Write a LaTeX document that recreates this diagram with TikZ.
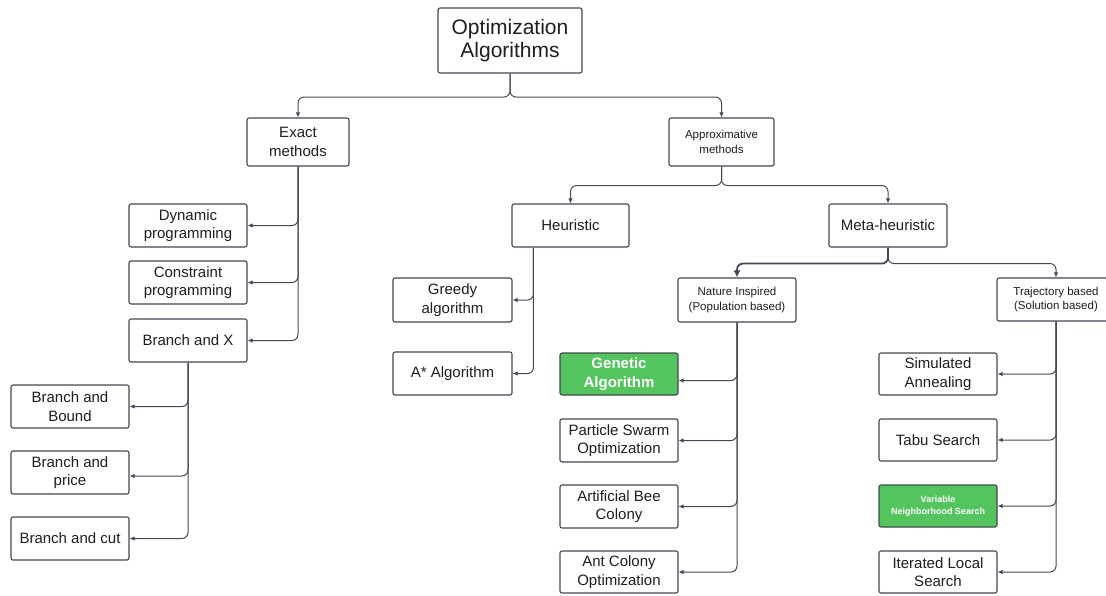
\documentclass[tikz,border=0pt]{standalone}
\usepackage{fontspec}
\setmainfont{Liberation Sans}
\usetikzlibrary{arrows.meta,calc}
\definecolor{edge}{HTML}{434952}
\definecolor{leaf}{HTML}{54C45E}
\definecolor{ink}{HTML}{1E1E1E}
\tikzset{
  x=1pt, y=1pt,
  box/.style={draw=edge, line width=1.1pt, rounded corners=2pt, fill=white,
    inner sep=0pt, align=center, text=ink, font=\fontsize{15}{18.5}\selectfont},
  smallbox/.style={box, font=\fontsize{11.5}{14.5}\selectfont},
  hot/.style={box, fill=leaf, text=white, font=\bfseries\fontsize{15}{18.5}\selectfont},
  conn/.style={draw=edge, line width=1pt, rounded corners=6pt,
    -{Latex[length=5pt,width=4.5pt]}},
  boldconn/.style={conn, line width=1.8pt, -{Latex[length=7pt,width=7pt]}},
}
\newcommand{\bx}[6]{\node[#1, minimum width=#4, minimum height=#5] (#2) at #3 {#6};}
\begin{document}
\begin{tikzpicture}
\useasboundingbox (0,0) rectangle (1106,-595);

% root and first level
\node[box, minimum width=144, minimum height=65,
  font=\fontsize{21}{23.5}\selectfont] (opt) at (510,-40.5) {Optimization\\Algorithms};
\bx{box}{exact}{(298,-142)}{102}{48}{Exact\\methods}
\bx{smallbox}{approx}{(721.5,-142)}{105}{48}{Approximative\\methods}

% exact methods
\bx{box}{dyn}{(188,-225.5)}{118}{43}{Dynamic\\programming}
\bx{box}{cons}{(188,-282.5)}{118}{43}{Constraint\\programming}
\bx{box}{bx}{(188,-340.5)}{118}{43}{Branch and X}
\bx{box}{bb}{(70,-406.5)}{118}{43}{Branch and\\Bound}
\bx{box}{bp}{(70,-472.5)}{118}{43}{Branch and\\price}
\bx{box}{bc}{(70,-538.5)}{118}{43}{Branch and cut}

% approximative methods
\bx{box}{heur}{(570.5,-225.5)}{117}{43}{Heuristic}
\bx{box}{meta}{(888,-225.5)}{118}{43}{Meta-heuristic}
\bx{box}{greedy}{(452.5,-300)}{119}{44}{Greedy\\algorithm}
\bx{box}{astar}{(452.5,-373.5)}{119}{43}{A* Algorithm}
\bx{smallbox}{nat}{(737,-300)}{118}{44}{Nature Inspired\\(Population based)}
\bx{smallbox}{traj}{(1056,-299.5)}{118}{43}{Trajectory based\\(Solution based)}

% population based
\bx{hot}{ga}{(619,-374)}{118}{42}{Genetic\\Algorithm}
\bx{box}{pso}{(619,-440.5)}{118}{43}{Particle Swarm\\Optimization}
\bx{box}{abc}{(619,-506.5)}{118}{43}{Artificial Bee\\Colony}
\bx{box}{aco}{(619,-572)}{118}{42}{Ant Colony\\Optimization}

% solution based
\bx{box}{sa}{(938,-374)}{118}{42}{Simulated\\Annealing}
\bx{box}{tabu}{(938,-440)}{118}{42}{Tabu Search}
\node[hot, minimum width=118, minimum height=42,
  font=\bfseries\fontsize{9}{12}\selectfont] (vns) at (938,-506) {Variable\\Neighborhood Search};
\bx{box}{ils}{(938,-572)}{118}{42}{Iterated Local\\Search}

% split connectors
\draw[conn] (opt.south) -- ++(0,-23.5) -| (exact.north);
\draw[conn] (opt.south) -- ++(0,-23.5) -| (approx.north);
\draw[conn] (approx.south) -- ++(0,-19) -| (heur.north);
\draw[conn] (approx.south) -- ++(0,-19) -| (meta.north);
\draw[boldconn] (meta.south) -- ++(0,-16) -| (nat.north);
\draw[conn] (meta.south) -- ++(0,-16) -| (traj.north);

% exact methods children
\draw[conn] (exact.south) |- (dyn.east);
\draw[conn] (exact.south) |- (cons.east);
\draw[conn] (exact.south) |- (bx.east);
\draw[conn] (bx.south) |- (bb.east);
\draw[conn] (bx.south) |- ($(bp.east)+(0,-3.5)$);
\draw[conn] (bx.south) |- (bc.east);

% heuristic children
\draw[conn] ($(heur.south west)+(22,0)$) |- (greedy.east);
\draw[conn] ($(heur.south west)+(22,0)$) |- (astar.east);

% nature inspired children
\draw[conn] (nat.south) |- ($(ga.east)+(0,-6.5)$);
\draw[conn] (nat.south) |- (pso.east);
\draw[conn] (nat.south) |- (abc.east);
\draw[conn] (nat.south) |- (aco.east);

% trajectory based children
\draw[conn] (traj.south) |- (sa.east);
\draw[conn] (traj.south) |- (tabu.east);
\draw[conn] (traj.south) |- (vns.east);
\draw[conn] (traj.south) |- (ils.east);
\end{tikzpicture}
\end{document}
